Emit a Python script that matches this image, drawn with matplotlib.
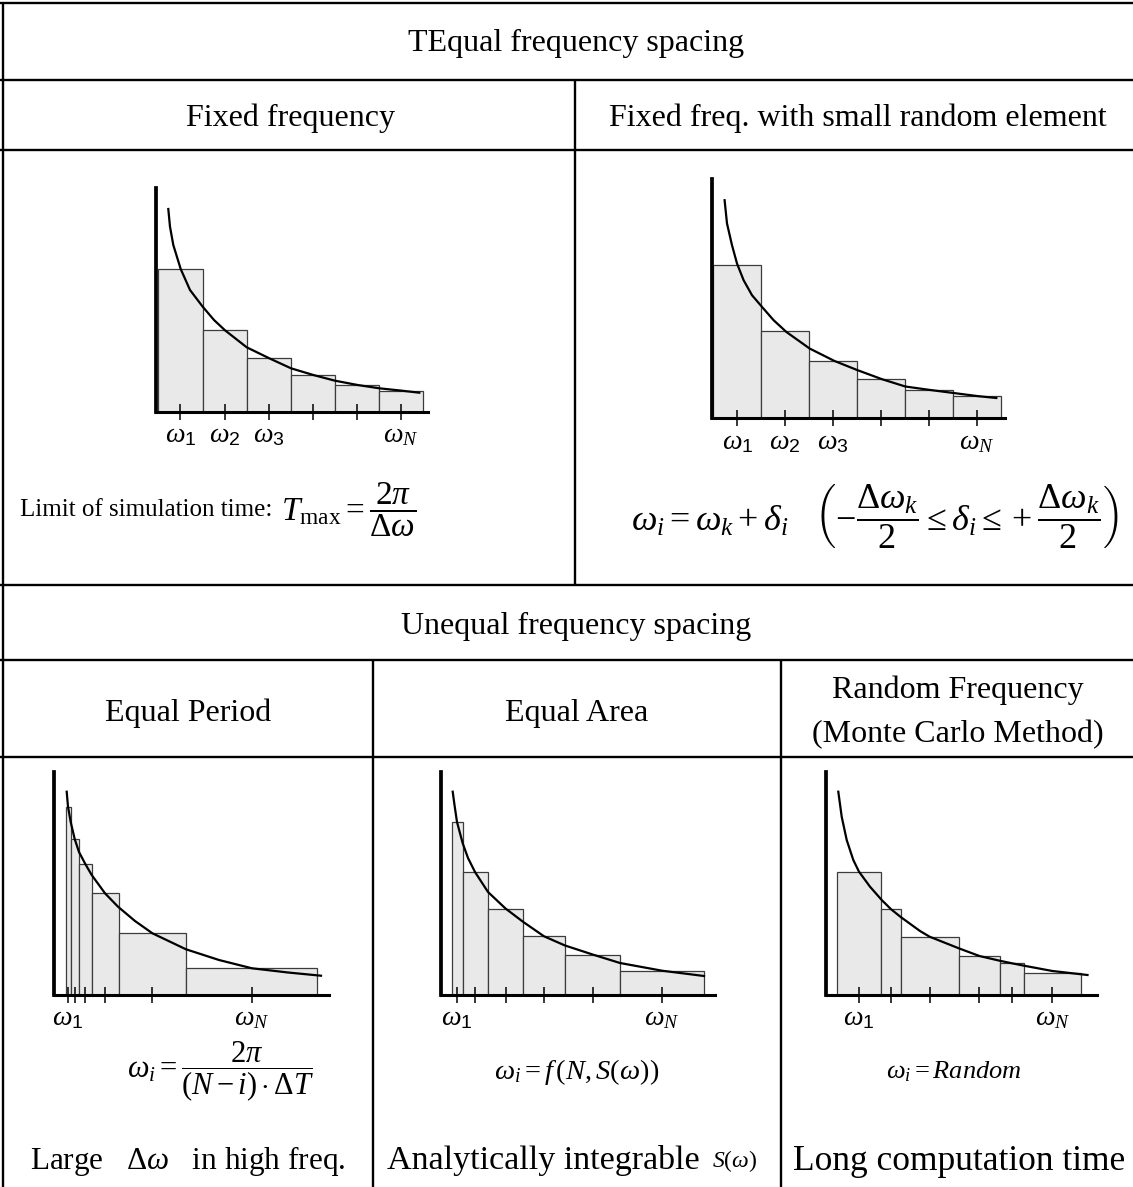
import matplotlib
matplotlib.use("Agg")
import matplotlib.pyplot as plt
import numpy as np

plt.rcParams["font.family"] = ["Liberation Serif", "DejaVu Serif"]
plt.rcParams["mathtext.fontset"] = "custom"
plt.rcParams["mathtext.rm"] = "Liberation Serif"
plt.rcParams["mathtext.it"] = "Liberation Serif:italic"
plt.rcParams["mathtext.bf"] = "Liberation Serif:bold"
plt.rcParams["mathtext.sf"] = "Liberation Sans"

# ---------------------------------------------------------------------------
# Spectrum sketches (frequency units along x, spectral density along y)
# ---------------------------------------------------------------------------

# Fixed frequency: equally spaced components
fixed_omega = [2.44, 6.86, 11.27, 15.69, 20.10, 24.52]
fixed_domega = 4.42
fixed_S = [14.3, 8.17, 5.37, 3.70, 2.70, 2.13]
fixed_curve_w = [1.23, 1.40, 1.73, 2.47, 3.40, 4.67, 5.80, 6.90, 9.07, 11.33,
                 13.50, 15.73, 17.90, 20.17, 22.33, 24.60, 26.33]
fixed_curve_S = [20.30, 18.53, 16.70, 14.30, 12.20, 10.53, 9.20, 8.17, 6.47, 5.37,
                 4.37, 3.70, 3.13, 2.70, 2.37, 2.13, 1.93]

# Fixed frequency with a small random element
jitter_omega = [2.53, 7.32, 12.12, 16.91, 21.71, 26.50]
jitter_domega = 4.795
jitter_S = [15.35, 8.78, 5.75, 3.95, 2.88, 2.25]
jitter_curve_w = [1.26, 1.50, 2.00, 2.50, 3.16, 4.00, 5.00, 6.16, 7.43, 9.76,
                  12.23, 14.56, 17.00, 19.33, 21.76, 24.16, 26.56, 28.43]
jitter_curve_S = [21.83, 19.50, 17.33, 15.50, 13.83, 12.33, 11.16, 9.83, 8.66, 7.00,
                  5.76, 4.83, 3.93, 3.20, 2.86, 2.55, 2.24, 2.05]

# Equal period: bands narrow at low frequency, wide at high frequency
period_edges = [1.15, 1.65, 2.50, 3.77, 6.45, 13.23, 26.34]
period_S = [18.83, 15.60, 13.10, 10.17, 6.17, 2.67]
period_curve_w = [1.27, 1.40, 1.67, 2.07, 2.50, 3.13, 3.77, 5.10, 6.40, 8.10,
                  9.84, 13.20, 16.50, 19.80, 23.40, 26.70]
period_curve_S = [20.33, 18.83, 17.30, 15.60, 14.30, 13.10, 12.00, 10.17, 8.83, 7.40,
                  6.17, 4.57, 3.50, 2.67, 2.25, 1.93]

# Equal area: every band carries about the same energy
area_edges = [1.12, 2.20, 4.73, 8.27, 12.45, 17.97, 26.37]
area_S = [17.30, 12.30, 8.65, 5.87, 4.05, 2.43]
area_curve_w = [1.22, 1.40, 1.65, 2.22, 2.75, 3.45, 4.75, 6.50, 8.28, 10.35,
                12.45, 15.21, 17.95, 22.15, 26.35]
area_curve_S = [20.33, 19.00, 17.30, 15.17, 13.70, 12.30, 10.30, 8.65, 7.30, 5.87,
                4.95, 4.05, 3.20, 2.43, 1.90]

# Random frequency (Monte Carlo)
random_edges = [1.10, 5.54, 7.45, 13.26, 17.41, 19.82, 25.46]
random_S = [12.33, 8.58, 5.83, 3.90, 3.17, 2.23]
random_curve_w = [1.23, 1.57, 2.07, 2.73, 3.30, 4.40, 5.57, 6.50, 7.47, 9.40,
                  10.36, 13.28, 15.34, 17.40, 18.60, 19.80, 22.64, 26.15]
random_curve_S = [20.33, 17.83, 15.50, 13.50, 12.33, 10.83, 9.50, 8.58, 7.80, 6.40,
                  5.83, 4.67, 3.90, 3.42, 3.17, 2.93, 2.40, 2.00]

# Table text
title_equal = "TEqual frequency spacing"
title_unequal = "Unequal frequency spacing"
head_fixed = "Fixed frequency"
head_jitter = "Fixed freq. with small random element"
head_period = "Equal Period"
head_area = "Equal Area"
head_random = ["Random Frequency", "(Monte Carlo Method)"]

# ---------------------------------------------------------------------------
W, H = 1133, 1187
DPI = 100
fig = plt.figure(figsize=(W / DPI, H / DPI), dpi=DPI)
fig.patch.set_facecolor("white")

grid = fig.add_axes([0, 0, 1, 1])
grid.set_xlim(0, W)
grid.set_ylim(H, 0)
grid.axis("off")

LW_TABLE = 1.7
hlines = [(3, 0, W), (80, 0, W), (150, 0, W), (585, 0, W), (660, 0, W), (757, 0, W)]
vlines = [(3, 3, H), (575, 80, 585), (373, 660, H), (781, 660, H)]
for y, x0, x1 in hlines:
    grid.plot([x0, x1], [y, y], color="black", lw=LW_TABLE, solid_capstyle="butt")
for x, y0, y1 in vlines:
    grid.plot([x, x], [y0, y1], color="black", lw=LW_TABLE, solid_capstyle="butt")

HEAD_FS = 23
grid.text(576, 43, title_equal, ha="center", va="center", fontsize=HEAD_FS)
grid.text(290, 118, head_fixed, ha="center", va="center", fontsize=HEAD_FS)
grid.text(858, 118, head_jitter, ha="center", va="center", fontsize=HEAD_FS)
grid.text(576, 626, title_unequal, ha="center", va="center", fontsize=HEAD_FS)
grid.text(188, 713, head_period, ha="center", va="center", fontsize=HEAD_FS)
grid.text(577, 713, head_area, ha="center", va="center", fontsize=HEAD_FS)
grid.text(958, 690, head_random[0], ha="center", va="center", fontsize=HEAD_FS)
grid.text(958, 735, head_random[1], ha="center", va="center", fontsize=HEAD_FS)

# formulas and remarks
grid.text(20, 510, "Limit of simulation time:", ha="left", va="center", fontsize=18)
grid.text(349, 510, r"$T_{\mathrm{max}} = \dfrac{2\pi}{\Delta\omega}$",
          ha="center", va="center", fontsize=24)
grid.text(875, 517,
          r"$\omega_i = \omega_k + \delta_i\quad\left(-\dfrac{\Delta\omega_k}{2}"
          r" \leq \delta_i \leq +\dfrac{\Delta\omega_k}{2}\right)$",
          ha="center", va="center", fontsize=26)
grid.text(221, 1072, r"$\omega_i = \dfrac{2\pi}{(N-i)\cdot\Delta T}$",
          ha="center", va="center", fontsize=22)
grid.text(577, 1072, r"$\omega_i = f\,\left(N, S(\omega)\right)$",
          ha="center", va="center", fontsize=20.5)
grid.text(954, 1072, r"$\omega_i = Random$", ha="center", va="center", fontsize=19)

grid.text(188, 1161, r"Large   $\Delta\omega$   in high freq.", ha="center",
          va="center", fontsize=22.5)
grid.text(700, 1161, "Analytically integrable", ha="right", va="center", fontsize=24.5)
grid.text(712, 1161, r"$S(\omega)$", ha="left", va="center", fontsize=17)
grid.text(959, 1161, "Long computation time", ha="center", va="center", fontsize=25.5)


def panel(origin, size, edges, heights, cw, cs, labels):
    """One spectrum sketch whose axes origin sits at pixel `origin`."""
    ox, oy = origin
    xl, yl = size
    ax = fig.add_axes([ox / W, (H - oy) / H, xl / W, yl / H])
    ax.set_xlim(0, xl / 10)
    ax.set_ylim(0, yl / 10)
    ax.patch.set_alpha(0)
    edges = np.asarray(edges, dtype=float)
    widths = np.diff(edges)
    ax.bar(edges[:-1], heights, width=widths, align="edge", color="#e9e9e9",
           edgecolor="#3c3c3c", linewidth=0.9, zorder=2)
    ax.plot(cw, cs, color="black", lw=1.6, zorder=3, clip_on=False)
    centers = edges[:-1] + widths / 2
    for side in ("top", "right"):
        ax.spines[side].set_visible(False)
    ax.spines["left"].set_linewidth(2.7)
    ax.spines["bottom"].set_linewidth(2.2)
    ax.spines["left"].set_zorder(4)
    ax.spines["bottom"].set_zorder(4)
    ax.set_axisbelow(False)
    ax.set_yticks([])
    ax.set_xticks(centers)
    ax.tick_params(axis="x", direction="inout", length=11, width=1.1,
                   labelbottom=False)
    for idx, lab in labels:
        ax.text(centers[idx], -2.4, lab, ha="center", va="center", fontsize=20)
    return ax


w1 = r"$\omega_{\mathsf{1}}$"
w2 = r"$\omega_{\mathsf{2}}$"
w3 = r"$\omega_{\mathsf{3}}$"
wN = r"$\omega_N$"

fixed_edges = [w - fixed_domega / 2 for w in fixed_omega] + [fixed_omega[-1] + fixed_domega / 2]
jitter_edges = [w - jitter_domega / 2 for w in jitter_omega] + [jitter_omega[-1] + jitter_domega / 2]

panel((156, 412), (272, 224), fixed_edges, fixed_S, fixed_curve_w, fixed_curve_S,
      [(0, w1), (1, w2), (2, w3), (5, wN)])
panel((712, 418.5), (293, 240), jitter_edges, jitter_S, jitter_curve_w, jitter_curve_S,
      [(0, w1), (1, w2), (2, w3), (5, wN)])
panel((54, 995), (275, 223), period_edges, period_S, period_curve_w, period_curve_S,
      [(0, w1), (5, wN)])
panel((440.5, 995), (274, 223), area_edges, area_S, area_curve_w, area_curve_S,
      [(0, w1), (5, wN)])
panel((826, 995), (270.5, 223), random_edges, random_S, random_curve_w, random_curve_S,
      [(0, w1), (5, wN)])

fig.savefig("out.png", dpi=DPI, facecolor="white")
